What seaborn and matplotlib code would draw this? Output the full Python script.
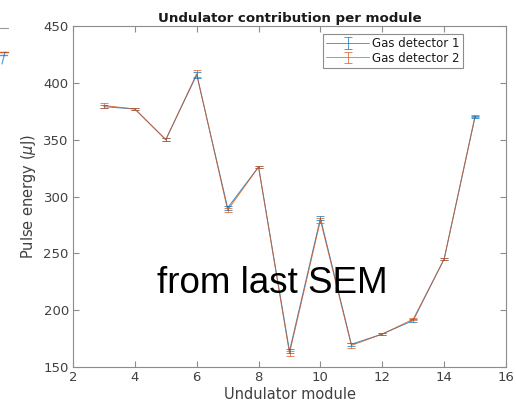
import matplotlib
matplotlib.use("Agg")
import matplotlib.pyplot as plt
from matplotlib.lines import Line2D
import seaborn as sns
import pandas as pd

# Undulator module numbers and pulse energies (uJ) from both gas detectors
modules = [3, 4, 5, 6, 7, 8, 9, 10, 11, 12, 13, 14, 15]
gd1_energy = [379, 377, 350, 407, 290, 326, 164, 281, 170, 179, 191, 245, 370]
gd2_energy = [380, 377, 350, 408, 288, 326, 162, 279, 169, 179, 192, 245, 371]
gd1_err = [1.5, 1.2, 1.5, 2.5, 1.5, 1.0, 2.0, 2.0, 1.5, 1.0, 1.0, 1.2, 1.0]
gd2_err = [2.0, 1.2, 1.5, 3.0, 2.0, 1.2, 2.5, 2.0, 2.5, 1.2, 1.0, 1.2, 1.0]
series_names = ["Gas detector 1", "Gas detector 2"]

df = pd.DataFrame({
    "module": modules * 2,
    "energy": gd1_energy + gd2_energy,
    "err": gd1_err + gd2_err,
    "detector": [series_names[0]] * len(modules) + [series_names[1]] * len(modules),
})

sns.set_theme(style="ticks")
plt.rcParams["font.family"] = ["DejaVu Sans"]

colors = {series_names[0]: "#0072BD", series_names[1]: "#D95319"}
axis_gray = "#8c8c8c"
text_gray = "#404040"

fig = plt.figure(figsize=(5.16, 4.07), dpi=100)
ax = fig.add_axes([73 / 516, 40 / 407, 433 / 516, 341 / 407])

sns.lineplot(data=df, x="module", y="energy", hue="detector", palette=colors,
             linewidth=0.7, alpha=0.8, ax=ax, legend=False, errorbar=None,
             sort=False)

handles = []
for name in series_names:
    sub = df[df["detector"] == name]
    ax.errorbar(sub["module"], sub["energy"], yerr=sub["err"], fmt="none",
                ecolor=colors[name], elinewidth=0.7, capsize=2.6,
                capthick=0.7, alpha=0.7)
    # legend key: line plus capped error bar
    key = ax.errorbar(sub["module"], sub["energy"], yerr=sub["err"],
                      color=colors[name], linewidth=0.7, elinewidth=0.7,
                      capsize=2.6, capthick=0.7, alpha=0.7)
    key.remove()
    handles.append(key)

ax.set_xlim(2, 16)
ax.set_ylim(150, 450)
ax.set_xticks(range(2, 17, 2))
ax.set_yticks(range(150, 451, 50))

for side in ["top", "right", "left", "bottom"]:
    ax.spines[side].set_visible(True)
    ax.spines[side].set_color(axis_gray)
    ax.spines[side].set_linewidth(0.8)
ax.tick_params(direction="in", length=4, width=0.8, color=axis_gray,
               labelcolor=text_gray, labelsize=9.5, top=True, right=True, pad=3)

ax.set_xlabel("Undulator module", fontsize=10.5, color=text_gray, labelpad=2)
ax.set_ylabel(r"Pulse energy ($\mu$J)", fontsize=10.5, color=text_gray, labelpad=4)
ax.set_title("Undulator contribution per module", fontsize=9.6, fontweight="bold",
             color="#1a1a1a", pad=3)

leg = ax.legend(handles=handles, labels=series_names, loc="upper right",
                bbox_to_anchor=(0.906, 0.982), fontsize=8.5, frameon=True,
                fancybox=False, edgecolor=axis_gray, handlelength=3.6,
                borderpad=0.25, labelspacing=0.1, handletextpad=0.3,
                borderaxespad=0.2, framealpha=1)
leg.get_frame().set_linewidth(0.8)
for t in leg.get_texts():
    t.set_color("#1a1a1a")

# Large annotation over the plot
fig.text(272.5 / 516, 1 - 293 / 407, "from last SEM", fontsize=26.5,
         family=["Liberation Sans", "DejaVu Sans"], color="black",
         ha="center", va="baseline")

# Edge of a neighbouring panel at the top-left corner
fig.add_artist(Line2D([0, 8 / 516], [1 - 28 / 407] * 2, color="#999999",
                      linewidth=0.8, transform=fig.transFigure))
fig.add_artist(Line2D([0, 8 / 516], [1 - 52 / 407] * 2, color="#D95319",
                      linewidth=1.0, transform=fig.transFigure))
fig.add_artist(Line2D([0, 7 / 516], [1 - 55 / 407] * 2, color="#0072BD",
                      linewidth=1.0, alpha=0.7, transform=fig.transFigure))
fig.add_artist(Line2D([2 / 516, 5 / 516], [1 - 64 / 407, 1 - 52 / 407],
                      color="#0072BD", linewidth=0.8, alpha=0.7,
                      transform=fig.transFigure))

fig.savefig("out.png", dpi=100)
